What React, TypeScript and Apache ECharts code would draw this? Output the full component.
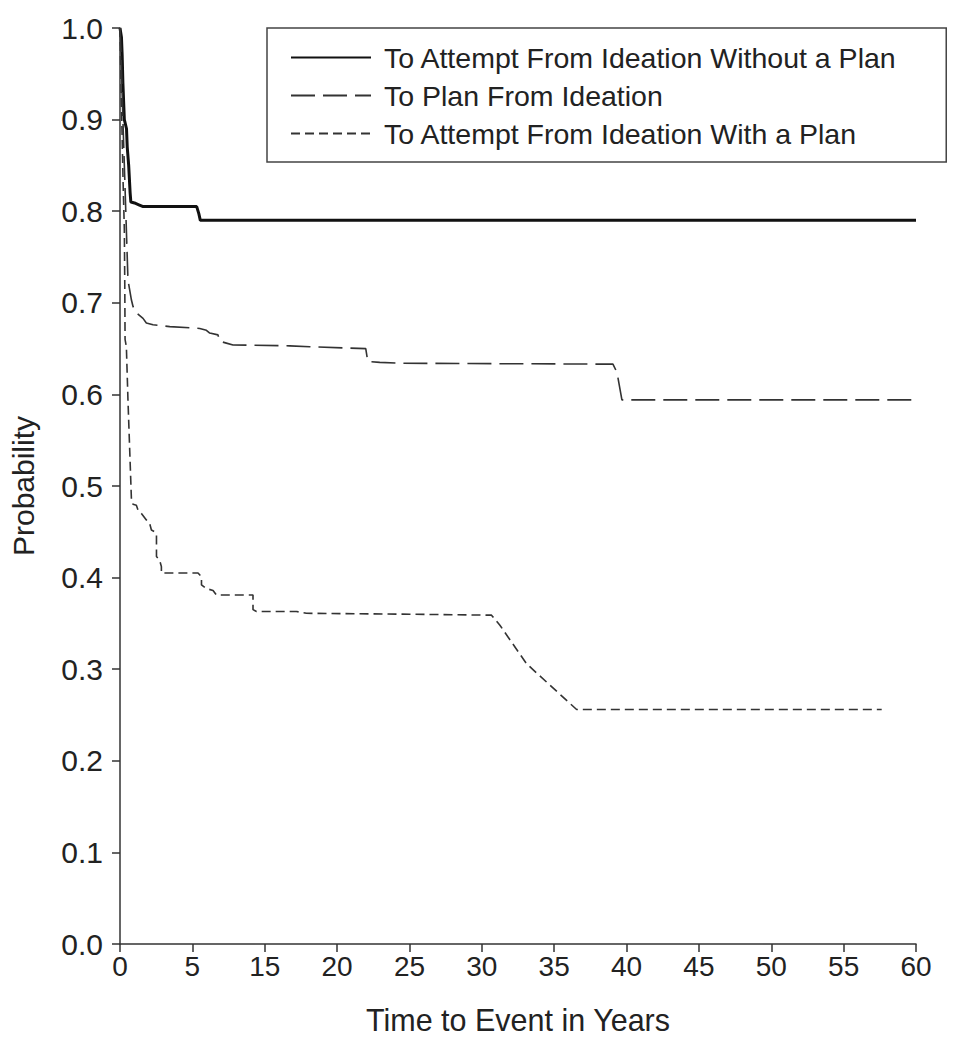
import React, { useEffect, useRef } from "react";
import * as echarts from "echarts";

const xTickLabels = ["0", "5", "15", "20", "25", "30", "35", "40", "45", "50", "55", "60"];
const yTickLabels = ["0.0", "0.1", "0.2", "0.3", "0.4", "0.5", "0.6", "0.7", "0.8", "0.9", "1.0"];

const seriesNames = [
  "To Attempt From Ideation Without a Plan",
  "To Plan From Ideation",
  "To Attempt From Ideation With a Plan",
];

// x in drawn-axis position units (tick spacing 5 per labelled tick)
const attemptWithoutPlan: [number, number][] = [
  [0, 1.0], [0.1, 0.99], [0.15, 0.97], [0.2, 0.94], [0.3, 0.9], [0.45, 0.89], [0.5, 0.87],
  [0.6, 0.85], [0.7, 0.82], [0.75, 0.81], [1.0, 0.809], [1.3, 0.807], [1.6, 0.805],
  [5.3, 0.805], [5.45, 0.797], [5.55, 0.79], [55, 0.79],
];

const planFromIdeation: [number, number][] = [
  [0, 1.0], [0.08, 0.97], [0.15, 0.93], [0.2, 0.9], [0.3, 0.85], [0.4, 0.8], [0.48, 0.76],
  [0.55, 0.725], [0.79, 0.703], [0.9, 0.696], [1.02, 0.692], [1.13, 0.689], [1.59, 0.683],
  [1.82, 0.678], [2.28, 0.676], [3.44, 0.674], [5.51, 0.672], [5.97, 0.67], [6.2, 0.667],
  [6.77, 0.665], [6.89, 0.658], [7.35, 0.656], [7.81, 0.654], [11.73, 0.653], [13.11, 0.652],
  [16.98, 0.65], [17.12, 0.636], [17.95, 0.635], [19.54, 0.634], [34.06, 0.633], [34.34, 0.624],
  [34.68, 0.594], [55, 0.594],
];

const attemptWithPlan: [number, number][] = [
  [0, 1.0], [0.08, 0.93], [0.15, 0.88], [0.21, 0.834], [0.3, 0.78], [0.33, 0.72], [0.35, 0.66],
  [0.44, 0.652], [0.55, 0.594], [0.79, 0.485], [0.9, 0.48], [1.13, 0.479], [1.24, 0.474],
  [1.48, 0.47], [1.82, 0.463], [2.05, 0.459], [2.17, 0.452], [2.4, 0.45], [2.52, 0.448],
  [2.52, 0.423], [2.74, 0.419], [2.86, 0.412], [2.86, 0.405], [5.39, 0.405], [5.63, 0.401],
  [5.63, 0.392], [5.97, 0.388], [6.43, 0.386], [6.66, 0.381], [9.19, 0.381], [9.19, 0.365],
  [9.43, 0.363], [12.19, 0.363], [12.88, 0.361], [20.03, 0.36], [25.67, 0.359], [26.25, 0.348],
  [28.09, 0.306], [28.78, 0.296], [31.55, 0.256], [52.63, 0.256],
];

const FONT = "'Liberation Sans', Arial, sans-serif";

export default function App() {
  const ref = useRef<HTMLDivElement>(null);
  useEffect(() => {
    if (!ref.current) return;
    const chart = echarts.init(ref.current, null, { renderer: "svg" });
    const axisColor = "#333";
    chart.setOption({
      animation: false,
      backgroundColor: "#fff",
      grid: { left: 120, right: 38, top: 28, bottom: 106, containLabel: false },
      legend: {
        orient: "vertical",
        left: 267,
        top: 28,
        padding: [15, 49, 14, 23],
        itemGap: 9,
        itemWidth: 80,
        itemHeight: 14,
        borderColor: "#444",
        borderWidth: 1.5,
        backgroundColor: "#fff",
        itemStyle: { color: "transparent", borderColor: "transparent", borderWidth: 0 },
        textStyle: { fontFamily: FONT, fontSize: 28.5, color: "#222", padding: [0, 0, 0, 8] },
        data: seriesNames,
      },
      xAxis: {
        type: "value",
        min: 0,
        max: 55,
        interval: 5,
        name: "Time to Event in Years",
        nameLocation: "middle",
        nameGap: 60,
        nameTextStyle: { fontFamily: FONT, fontSize: 30.5, color: "#222" },
        axisLine: { lineStyle: { color: axisColor, width: 1.5 } },
        axisTick: { length: 8, lineStyle: { color: axisColor, width: 1.5 } },
        axisLabel: {
          fontFamily: FONT,
          fontSize: 28,
          color: "#222",
          margin: 8,
          formatter: (v: number) => xTickLabels[Math.round(v / 5)] ?? "",
        },
        splitLine: { show: false },
      },
      yAxis: {
        type: "value",
        min: 0,
        max: 1,
        interval: 0.1,
        name: "Probability",
        nameLocation: "middle",
        nameGap: 82,
        nameTextStyle: { fontFamily: FONT, fontSize: 30, color: "#222" },
        axisLine: { show: true, lineStyle: { color: axisColor, width: 1.5 } },
        axisTick: { show: true, length: 8, lineStyle: { color: axisColor, width: 1.5 } },
        axisLabel: {
          fontFamily: FONT,
          fontSize: 30,
          color: "#222",
          margin: 17,
          formatter: (v: number) => yTickLabels[Math.round(v * 10)] ?? "",
        },
        splitLine: { show: false },
      },
      series: [
        {
          name: seriesNames[0],
          type: "line",
          data: attemptWithoutPlan,
          symbol: "none",
          showSymbol: false,
          lineStyle: { color: "#111", width: 3 },
          itemStyle: { color: "#111" },
        },
        {
          name: seriesNames[1],
          type: "line",
          data: planFromIdeation,
          symbol: "none",
          showSymbol: false,
          lineStyle: { color: "#333", width: 1.6, type: [24, 8] },
          itemStyle: { color: "#333" },
        },
        {
          name: seriesNames[2],
          type: "line",
          data: attemptWithPlan,
          symbol: "none",
          showSymbol: false,
          lineStyle: { color: "#333", width: 1.6, type: [9, 5] },
          itemStyle: { color: "#333" },
        },
      ],
    });
    return () => chart.dispose();
  }, []);
  return (
    <div
      ref={ref}
      style={{ position: "absolute", left: 0, top: 0, width: 954, height: 1050 }}
    />
  );
}
